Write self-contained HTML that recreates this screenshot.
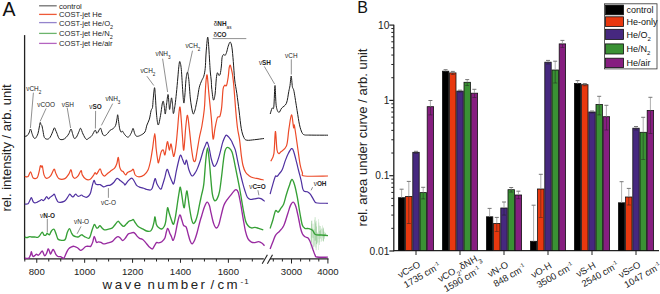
<!DOCTYPE html>
<html><head><meta charset="utf-8"><style>html,body{margin:0;padding:0;background:#fff;}svg{display:block;}</style></head>
<body><svg width="660" height="294" viewBox="0 0 660 294">
<line x1="393.8" y1="24.8" x2="393.8" y2="251.2" stroke="#222" stroke-width="1.3"/>
<line x1="393.2" y1="250.6" x2="659" y2="250.6" stroke="#222" stroke-width="1.2"/>
<line x1="389.3" y1="25.10" x2="393.8" y2="25.10" stroke="#222" stroke-width="1.2"/>
<line x1="389.3" y1="100.40" x2="393.8" y2="100.40" stroke="#222" stroke-width="1.2"/>
<line x1="389.3" y1="175.70" x2="393.8" y2="175.70" stroke="#222" stroke-width="1.2"/>
<line x1="389.3" y1="251.00" x2="393.8" y2="251.00" stroke="#222" stroke-width="1.2"/>
<line x1="391.3" y1="77.73" x2="393.8" y2="77.73" stroke="#222" stroke-width="1"/>
<line x1="391.3" y1="64.47" x2="393.8" y2="64.47" stroke="#222" stroke-width="1"/>
<line x1="391.3" y1="55.06" x2="393.8" y2="55.06" stroke="#222" stroke-width="1"/>
<line x1="391.3" y1="47.77" x2="393.8" y2="47.77" stroke="#222" stroke-width="1"/>
<line x1="391.3" y1="41.81" x2="393.8" y2="41.81" stroke="#222" stroke-width="1"/>
<line x1="391.3" y1="36.76" x2="393.8" y2="36.76" stroke="#222" stroke-width="1"/>
<line x1="391.3" y1="32.40" x2="393.8" y2="32.40" stroke="#222" stroke-width="1"/>
<line x1="391.3" y1="28.55" x2="393.8" y2="28.55" stroke="#222" stroke-width="1"/>
<line x1="391.3" y1="153.03" x2="393.8" y2="153.03" stroke="#222" stroke-width="1"/>
<line x1="391.3" y1="139.77" x2="393.8" y2="139.77" stroke="#222" stroke-width="1"/>
<line x1="391.3" y1="130.36" x2="393.8" y2="130.36" stroke="#222" stroke-width="1"/>
<line x1="391.3" y1="123.07" x2="393.8" y2="123.07" stroke="#222" stroke-width="1"/>
<line x1="391.3" y1="117.11" x2="393.8" y2="117.11" stroke="#222" stroke-width="1"/>
<line x1="391.3" y1="112.06" x2="393.8" y2="112.06" stroke="#222" stroke-width="1"/>
<line x1="391.3" y1="107.70" x2="393.8" y2="107.70" stroke="#222" stroke-width="1"/>
<line x1="391.3" y1="103.85" x2="393.8" y2="103.85" stroke="#222" stroke-width="1"/>
<line x1="391.3" y1="228.33" x2="393.8" y2="228.33" stroke="#222" stroke-width="1"/>
<line x1="391.3" y1="215.07" x2="393.8" y2="215.07" stroke="#222" stroke-width="1"/>
<line x1="391.3" y1="205.66" x2="393.8" y2="205.66" stroke="#222" stroke-width="1"/>
<line x1="391.3" y1="198.37" x2="393.8" y2="198.37" stroke="#222" stroke-width="1"/>
<line x1="391.3" y1="192.41" x2="393.8" y2="192.41" stroke="#222" stroke-width="1"/>
<line x1="391.3" y1="187.36" x2="393.8" y2="187.36" stroke="#222" stroke-width="1"/>
<line x1="391.3" y1="183.00" x2="393.8" y2="183.00" stroke="#222" stroke-width="1"/>
<line x1="391.3" y1="179.15" x2="393.8" y2="179.15" stroke="#222" stroke-width="1"/>
<text x="389.4" y="28.80" font-size="10.2" text-anchor="end" fill="#222" font-family="Liberation Sans, sans-serif">10</text>
<text x="389.4" y="104.10" font-size="10.2" text-anchor="end" fill="#222" font-family="Liberation Sans, sans-serif">1</text>
<text x="389.4" y="179.40" font-size="10.2" text-anchor="end" fill="#222" font-family="Liberation Sans, sans-serif">0.1</text>
<text x="389.4" y="254.70" font-size="10.2" text-anchor="end" fill="#222" font-family="Liberation Sans, sans-serif">0.01</text>
<rect x="398.40" y="197.70" width="6.40" height="52.90" fill="#000000" stroke="#111" stroke-width="0.8"/>
<rect x="405.60" y="196.40" width="6.40" height="54.20" fill="#e8380f" stroke="#111" stroke-width="0.8"/>
<rect x="412.80" y="152.30" width="6.40" height="98.30" fill="#46287f" stroke="#111" stroke-width="0.8"/>
<rect x="420.00" y="192.60" width="6.40" height="58.00" fill="#3a9134" stroke="#111" stroke-width="0.8"/>
<rect x="427.20" y="106.70" width="6.40" height="143.90" fill="#861e80" stroke="#111" stroke-width="0.8"/>
<line x1="401.60" y1="189.20" x2="401.60" y2="197.70" stroke="#999" stroke-width="0.8"/>
<line x1="399.60" y1="189.20" x2="403.60" y2="189.20" stroke="#777" stroke-width="1"/>
<line x1="408.80" y1="181.40" x2="408.80" y2="196.40" stroke="#999" stroke-width="0.8"/>
<line x1="406.80" y1="181.40" x2="410.80" y2="181.40" stroke="#777" stroke-width="1"/>
<line x1="408.80" y1="196.40" x2="408.80" y2="223.50" stroke="#222" stroke-width="0.8" opacity="0.6"/>
<line x1="406.80" y1="223.50" x2="410.80" y2="223.50" stroke="#222" stroke-width="0.8" opacity="0.6"/>
<line x1="416.00" y1="151.30" x2="416.00" y2="152.30" stroke="#999" stroke-width="0.8"/>
<line x1="414.00" y1="151.30" x2="418.00" y2="151.30" stroke="#777" stroke-width="1"/>
<line x1="416.00" y1="152.30" x2="416.00" y2="153.30" stroke="#222" stroke-width="0.8" opacity="0.6"/>
<line x1="414.00" y1="153.30" x2="418.00" y2="153.30" stroke="#222" stroke-width="0.8" opacity="0.6"/>
<line x1="423.20" y1="187.30" x2="423.20" y2="192.60" stroke="#999" stroke-width="0.8"/>
<line x1="421.20" y1="187.30" x2="425.20" y2="187.30" stroke="#777" stroke-width="1"/>
<line x1="423.20" y1="192.60" x2="423.20" y2="198.90" stroke="#222" stroke-width="0.8" opacity="0.6"/>
<line x1="421.20" y1="198.90" x2="425.20" y2="198.90" stroke="#222" stroke-width="0.8" opacity="0.6"/>
<line x1="430.40" y1="100.50" x2="430.40" y2="106.70" stroke="#999" stroke-width="0.8"/>
<line x1="428.40" y1="100.50" x2="432.40" y2="100.50" stroke="#777" stroke-width="1"/>
<line x1="430.40" y1="106.70" x2="430.40" y2="114.90" stroke="#222" stroke-width="0.8" opacity="0.6"/>
<line x1="428.40" y1="114.90" x2="432.40" y2="114.90" stroke="#222" stroke-width="0.8" opacity="0.6"/>
<line x1="416.00" y1="250.6" x2="416.00" y2="255" stroke="#222" stroke-width="1"/>
<rect x="442.40" y="71.20" width="6.40" height="179.40" fill="#000000" stroke="#111" stroke-width="0.8"/>
<rect x="449.60" y="72.90" width="6.40" height="177.70" fill="#e8380f" stroke="#111" stroke-width="0.8"/>
<rect x="456.80" y="91.10" width="6.40" height="159.50" fill="#46287f" stroke="#111" stroke-width="0.8"/>
<rect x="464.00" y="82.30" width="6.40" height="168.30" fill="#3a9134" stroke="#111" stroke-width="0.8"/>
<rect x="471.20" y="93.20" width="6.40" height="157.40" fill="#861e80" stroke="#111" stroke-width="0.8"/>
<line x1="445.60" y1="69.70" x2="445.60" y2="71.20" stroke="#999" stroke-width="0.8"/>
<line x1="443.60" y1="69.70" x2="447.60" y2="69.70" stroke="#777" stroke-width="1"/>
<line x1="452.80" y1="71.40" x2="452.80" y2="72.90" stroke="#999" stroke-width="0.8"/>
<line x1="450.80" y1="71.40" x2="454.80" y2="71.40" stroke="#777" stroke-width="1"/>
<line x1="452.80" y1="72.90" x2="452.80" y2="74.50" stroke="#222" stroke-width="0.8" opacity="0.6"/>
<line x1="450.80" y1="74.50" x2="454.80" y2="74.50" stroke="#222" stroke-width="0.8" opacity="0.6"/>
<line x1="460.00" y1="90.20" x2="460.00" y2="91.10" stroke="#999" stroke-width="0.8"/>
<line x1="458.00" y1="90.20" x2="462.00" y2="90.20" stroke="#777" stroke-width="1"/>
<line x1="460.00" y1="91.10" x2="460.00" y2="92.00" stroke="#222" stroke-width="0.8" opacity="0.6"/>
<line x1="458.00" y1="92.00" x2="462.00" y2="92.00" stroke="#222" stroke-width="0.8" opacity="0.6"/>
<line x1="467.20" y1="79.60" x2="467.20" y2="82.30" stroke="#999" stroke-width="0.8"/>
<line x1="465.20" y1="79.60" x2="469.20" y2="79.60" stroke="#777" stroke-width="1"/>
<line x1="467.20" y1="82.30" x2="467.20" y2="85.50" stroke="#222" stroke-width="0.8" opacity="0.6"/>
<line x1="465.20" y1="85.50" x2="469.20" y2="85.50" stroke="#222" stroke-width="0.8" opacity="0.6"/>
<line x1="474.40" y1="89.30" x2="474.40" y2="93.20" stroke="#999" stroke-width="0.8"/>
<line x1="472.40" y1="89.30" x2="476.40" y2="89.30" stroke="#777" stroke-width="1"/>
<line x1="474.40" y1="93.20" x2="474.40" y2="97.50" stroke="#222" stroke-width="0.8" opacity="0.6"/>
<line x1="472.40" y1="97.50" x2="476.40" y2="97.50" stroke="#222" stroke-width="0.8" opacity="0.6"/>
<line x1="460.00" y1="250.6" x2="460.00" y2="255" stroke="#222" stroke-width="1"/>
<rect x="486.40" y="216.80" width="6.40" height="33.80" fill="#000000" stroke="#111" stroke-width="0.8"/>
<rect x="493.60" y="223.40" width="6.40" height="27.20" fill="#e8380f" stroke="#111" stroke-width="0.8"/>
<rect x="500.80" y="208.00" width="6.40" height="42.60" fill="#46287f" stroke="#111" stroke-width="0.8"/>
<rect x="508.00" y="189.70" width="6.40" height="60.90" fill="#3a9134" stroke="#111" stroke-width="0.8"/>
<rect x="515.20" y="195.00" width="6.40" height="55.60" fill="#861e80" stroke="#111" stroke-width="0.8"/>
<line x1="489.60" y1="208.40" x2="489.60" y2="216.80" stroke="#999" stroke-width="0.8"/>
<line x1="487.60" y1="208.40" x2="491.60" y2="208.40" stroke="#777" stroke-width="1"/>
<line x1="496.80" y1="217.40" x2="496.80" y2="223.40" stroke="#999" stroke-width="0.8"/>
<line x1="494.80" y1="217.40" x2="498.80" y2="217.40" stroke="#777" stroke-width="1"/>
<line x1="496.80" y1="223.40" x2="496.80" y2="231.40" stroke="#222" stroke-width="0.8" opacity="0.6"/>
<line x1="494.80" y1="231.40" x2="498.80" y2="231.40" stroke="#222" stroke-width="0.8" opacity="0.6"/>
<line x1="504.00" y1="202.00" x2="504.00" y2="208.00" stroke="#999" stroke-width="0.8"/>
<line x1="502.00" y1="202.00" x2="506.00" y2="202.00" stroke="#777" stroke-width="1"/>
<line x1="504.00" y1="208.00" x2="504.00" y2="215.10" stroke="#222" stroke-width="0.8" opacity="0.6"/>
<line x1="502.00" y1="215.10" x2="506.00" y2="215.10" stroke="#222" stroke-width="0.8" opacity="0.6"/>
<line x1="511.20" y1="187.50" x2="511.20" y2="189.70" stroke="#999" stroke-width="0.8"/>
<line x1="509.20" y1="187.50" x2="513.20" y2="187.50" stroke="#777" stroke-width="1"/>
<line x1="511.20" y1="189.70" x2="511.20" y2="192.10" stroke="#222" stroke-width="0.8" opacity="0.6"/>
<line x1="509.20" y1="192.10" x2="513.20" y2="192.10" stroke="#222" stroke-width="0.8" opacity="0.6"/>
<line x1="518.40" y1="191.20" x2="518.40" y2="195.00" stroke="#999" stroke-width="0.8"/>
<line x1="516.40" y1="191.20" x2="520.40" y2="191.20" stroke="#777" stroke-width="1"/>
<line x1="518.40" y1="195.00" x2="518.40" y2="198.70" stroke="#222" stroke-width="0.8" opacity="0.6"/>
<line x1="516.40" y1="198.70" x2="520.40" y2="198.70" stroke="#222" stroke-width="0.8" opacity="0.6"/>
<line x1="504.00" y1="250.6" x2="504.00" y2="255" stroke="#222" stroke-width="1"/>
<rect x="530.40" y="241.30" width="6.40" height="9.30" fill="#000000" stroke="#111" stroke-width="0.8"/>
<rect x="537.60" y="189.00" width="6.40" height="61.60" fill="#e8380f" stroke="#111" stroke-width="0.8"/>
<rect x="544.80" y="62.20" width="6.40" height="188.40" fill="#46287f" stroke="#111" stroke-width="0.8"/>
<rect x="552.00" y="70.00" width="6.40" height="180.60" fill="#3a9134" stroke="#111" stroke-width="0.8"/>
<rect x="559.20" y="43.90" width="6.40" height="206.70" fill="#861e80" stroke="#111" stroke-width="0.8"/>
<line x1="533.60" y1="205.20" x2="533.60" y2="241.30" stroke="#999" stroke-width="0.8"/>
<line x1="531.60" y1="205.20" x2="535.60" y2="205.20" stroke="#777" stroke-width="1"/>
<line x1="540.80" y1="174.30" x2="540.80" y2="189.00" stroke="#999" stroke-width="0.8"/>
<line x1="538.80" y1="174.30" x2="542.80" y2="174.30" stroke="#777" stroke-width="1"/>
<line x1="540.80" y1="189.00" x2="540.80" y2="217.40" stroke="#222" stroke-width="0.8" opacity="0.6"/>
<line x1="538.80" y1="217.40" x2="542.80" y2="217.40" stroke="#222" stroke-width="0.8" opacity="0.6"/>
<line x1="548.00" y1="60.40" x2="548.00" y2="62.20" stroke="#999" stroke-width="0.8"/>
<line x1="546.00" y1="60.40" x2="550.00" y2="60.40" stroke="#777" stroke-width="1"/>
<line x1="548.00" y1="62.20" x2="548.00" y2="64.00" stroke="#222" stroke-width="0.8" opacity="0.6"/>
<line x1="546.00" y1="64.00" x2="550.00" y2="64.00" stroke="#222" stroke-width="0.8" opacity="0.6"/>
<line x1="555.20" y1="61.20" x2="555.20" y2="70.00" stroke="#999" stroke-width="0.8"/>
<line x1="553.20" y1="61.20" x2="557.20" y2="61.20" stroke="#777" stroke-width="1"/>
<line x1="555.20" y1="70.00" x2="555.20" y2="83.00" stroke="#222" stroke-width="0.8" opacity="0.6"/>
<line x1="553.20" y1="83.00" x2="557.20" y2="83.00" stroke="#222" stroke-width="0.8" opacity="0.6"/>
<line x1="562.40" y1="40.40" x2="562.40" y2="43.90" stroke="#999" stroke-width="0.8"/>
<line x1="560.40" y1="40.40" x2="564.40" y2="40.40" stroke="#777" stroke-width="1"/>
<line x1="562.40" y1="43.90" x2="562.40" y2="47.40" stroke="#222" stroke-width="0.8" opacity="0.6"/>
<line x1="560.40" y1="47.40" x2="564.40" y2="47.40" stroke="#222" stroke-width="0.8" opacity="0.6"/>
<line x1="548.00" y1="250.6" x2="548.00" y2="255" stroke="#222" stroke-width="1"/>
<rect x="574.40" y="83.50" width="6.40" height="167.10" fill="#000000" stroke="#111" stroke-width="0.8"/>
<rect x="581.60" y="84.70" width="6.40" height="165.90" fill="#e8380f" stroke="#111" stroke-width="0.8"/>
<rect x="588.80" y="112.00" width="6.40" height="138.60" fill="#46287f" stroke="#111" stroke-width="0.8"/>
<rect x="596.00" y="104.50" width="6.40" height="146.10" fill="#3a9134" stroke="#111" stroke-width="0.8"/>
<rect x="603.20" y="116.70" width="6.40" height="133.90" fill="#861e80" stroke="#111" stroke-width="0.8"/>
<line x1="577.60" y1="80.60" x2="577.60" y2="83.50" stroke="#999" stroke-width="0.8"/>
<line x1="575.60" y1="80.60" x2="579.60" y2="80.60" stroke="#777" stroke-width="1"/>
<line x1="584.80" y1="83.60" x2="584.80" y2="84.70" stroke="#999" stroke-width="0.8"/>
<line x1="582.80" y1="83.60" x2="586.80" y2="83.60" stroke="#777" stroke-width="1"/>
<line x1="584.80" y1="84.70" x2="584.80" y2="85.80" stroke="#222" stroke-width="0.8" opacity="0.6"/>
<line x1="582.80" y1="85.80" x2="586.80" y2="85.80" stroke="#222" stroke-width="0.8" opacity="0.6"/>
<line x1="592.00" y1="111.00" x2="592.00" y2="112.00" stroke="#999" stroke-width="0.8"/>
<line x1="590.00" y1="111.00" x2="594.00" y2="111.00" stroke="#777" stroke-width="1"/>
<line x1="592.00" y1="112.00" x2="592.00" y2="113.00" stroke="#222" stroke-width="0.8" opacity="0.6"/>
<line x1="590.00" y1="113.00" x2="594.00" y2="113.00" stroke="#222" stroke-width="0.8" opacity="0.6"/>
<line x1="599.20" y1="96.30" x2="599.20" y2="104.50" stroke="#999" stroke-width="0.8"/>
<line x1="597.20" y1="96.30" x2="601.20" y2="96.30" stroke="#777" stroke-width="1"/>
<line x1="599.20" y1="104.50" x2="599.20" y2="114.90" stroke="#222" stroke-width="0.8" opacity="0.6"/>
<line x1="597.20" y1="114.90" x2="601.20" y2="114.90" stroke="#222" stroke-width="0.8" opacity="0.6"/>
<line x1="606.40" y1="105.30" x2="606.40" y2="116.70" stroke="#999" stroke-width="0.8"/>
<line x1="604.40" y1="105.30" x2="608.40" y2="105.30" stroke="#777" stroke-width="1"/>
<line x1="606.40" y1="116.70" x2="606.40" y2="130.00" stroke="#222" stroke-width="0.8" opacity="0.6"/>
<line x1="604.40" y1="130.00" x2="608.40" y2="130.00" stroke="#222" stroke-width="0.8" opacity="0.6"/>
<line x1="592.00" y1="250.6" x2="592.00" y2="255" stroke="#222" stroke-width="1"/>
<rect x="618.40" y="202.80" width="6.40" height="47.80" fill="#000000" stroke="#111" stroke-width="0.8"/>
<rect x="625.60" y="197.00" width="6.40" height="53.60" fill="#e8380f" stroke="#111" stroke-width="0.8"/>
<rect x="632.80" y="128.20" width="6.40" height="122.40" fill="#46287f" stroke="#111" stroke-width="0.8"/>
<rect x="640.00" y="132.30" width="6.40" height="118.30" fill="#3a9134" stroke="#111" stroke-width="0.8"/>
<rect x="647.20" y="110.40" width="6.40" height="140.20" fill="#861e80" stroke="#111" stroke-width="0.8"/>
<line x1="621.60" y1="181.70" x2="621.60" y2="202.80" stroke="#999" stroke-width="0.8"/>
<line x1="619.60" y1="181.70" x2="623.60" y2="181.70" stroke="#777" stroke-width="1"/>
<line x1="628.80" y1="188.40" x2="628.80" y2="197.00" stroke="#999" stroke-width="0.8"/>
<line x1="626.80" y1="188.40" x2="630.80" y2="188.40" stroke="#777" stroke-width="1"/>
<line x1="628.80" y1="197.00" x2="628.80" y2="205.00" stroke="#222" stroke-width="0.8" opacity="0.6"/>
<line x1="626.80" y1="205.00" x2="630.80" y2="205.00" stroke="#222" stroke-width="0.8" opacity="0.6"/>
<line x1="636.00" y1="126.50" x2="636.00" y2="128.20" stroke="#999" stroke-width="0.8"/>
<line x1="634.00" y1="126.50" x2="638.00" y2="126.50" stroke="#777" stroke-width="1"/>
<line x1="636.00" y1="128.20" x2="636.00" y2="130.00" stroke="#222" stroke-width="0.8" opacity="0.6"/>
<line x1="634.00" y1="130.00" x2="638.00" y2="130.00" stroke="#222" stroke-width="0.8" opacity="0.6"/>
<line x1="643.20" y1="117.30" x2="643.20" y2="132.30" stroke="#999" stroke-width="0.8"/>
<line x1="641.20" y1="117.30" x2="645.20" y2="117.30" stroke="#777" stroke-width="1"/>
<line x1="643.20" y1="132.30" x2="643.20" y2="159.40" stroke="#222" stroke-width="0.8" opacity="0.6"/>
<line x1="641.20" y1="159.40" x2="645.20" y2="159.40" stroke="#222" stroke-width="0.8" opacity="0.6"/>
<line x1="650.40" y1="97.30" x2="650.40" y2="110.40" stroke="#999" stroke-width="0.8"/>
<line x1="648.40" y1="97.30" x2="652.40" y2="97.30" stroke="#777" stroke-width="1"/>
<line x1="650.40" y1="110.40" x2="650.40" y2="133.50" stroke="#222" stroke-width="0.8" opacity="0.6"/>
<line x1="648.40" y1="133.50" x2="652.40" y2="133.50" stroke="#222" stroke-width="0.8" opacity="0.6"/>
<line x1="636.00" y1="250.6" x2="636.00" y2="255" stroke="#222" stroke-width="1"/>
<g transform="translate(400.2,278.4) rotate(-30)"><text x="0" y="0" font-size="9.4" fill="#222" font-family="Liberation Sans, sans-serif">νC=O</text><text x="0" y="11.4" font-size="9.4" fill="#222" font-family="Liberation Sans, sans-serif">1735 cm<tspan dy="-4" font-size="5.5">-1</tspan></text></g>
<g transform="translate(440.2,282.5) rotate(-30)"><text x="0" y="0" font-size="9.4" fill="#222" font-family="Liberation Sans, sans-serif">νCO<tspan baseline-shift="sub" font-size="6.5">2</tspan>,δNH<tspan baseline-shift="sub" font-size="6.5">3</tspan></text><text x="0" y="11.4" font-size="9.4" fill="#222" font-family="Liberation Sans, sans-serif">1590 cm<tspan dy="-4" font-size="5.5">-1</tspan></text></g>
<g transform="translate(490.0,277.5) rotate(-30)"><text x="0" y="0" font-size="9.4" fill="#222" font-family="Liberation Sans, sans-serif">νN-O</text><text x="0" y="11.4" font-size="9.4" fill="#222" font-family="Liberation Sans, sans-serif">848 cm<tspan dy="-4" font-size="5.5">-1</tspan></text></g>
<g transform="translate(533.4,278.4) rotate(-30)"><text x="0" y="0" font-size="9.4" fill="#222" font-family="Liberation Sans, sans-serif">νO-H</text><text x="0" y="11.4" font-size="9.4" fill="#222" font-family="Liberation Sans, sans-serif">3500 cm<tspan dy="-4" font-size="5.5">-1</tspan></text></g>
<g transform="translate(578.4,277.5) rotate(-30)"><text x="0" y="0" font-size="9.4" fill="#222" font-family="Liberation Sans, sans-serif">νS-H</text><text x="0" y="11.4" font-size="9.4" fill="#222" font-family="Liberation Sans, sans-serif">2540 cm<tspan dy="-4" font-size="5.5">-1</tspan></text></g>
<g transform="translate(620.9,278.4) rotate(-30)"><text x="0" y="0" font-size="9.4" fill="#222" font-family="Liberation Sans, sans-serif">νS=O</text><text x="0" y="11.4" font-size="9.4" fill="#222" font-family="Liberation Sans, sans-serif">1047 cm<tspan dy="-4" font-size="5.5">-1</tspan></text></g>
<text transform="translate(366.5,137.5) rotate(-90)" x="0" y="0" font-size="13" text-anchor="middle" fill="#222" font-family="Liberation Sans, sans-serif">rel. area under curve / arb. unit</text>
<text x="357.2" y="13" font-size="16" fill="#111" font-family="Liberation Sans, sans-serif">B</text>
<rect x="604.4" y="3.8" width="52.6" height="65.1" fill="#fff" stroke="#333" stroke-width="0.8"/>
<rect x="605.6" y="5.1" width="18" height="9.7" fill="#000" stroke="#111" stroke-width="0.8"/>
<text x="626.5" y="13.2" font-size="9" fill="#111" font-family="Liberation Sans, sans-serif">control</text>
<rect x="605.6" y="16.8" width="18" height="9.7" fill="#e8380f" stroke="#111" stroke-width="0.8"/>
<text x="626.5" y="24.9" font-size="9" fill="#111" font-family="Liberation Sans, sans-serif">He-only</text>
<rect x="605.6" y="29.3" width="18" height="10.2" fill="#46287f" stroke="#111" stroke-width="0.8"/>
<text x="626.5" y="37.7" font-size="9" fill="#111" font-family="Liberation Sans, sans-serif">He/O<tspan baseline-shift="sub" font-size="6">2</tspan></text>
<rect x="605.6" y="43.9" width="18" height="10.1" fill="#3a9134" stroke="#111" stroke-width="0.8"/>
<text x="626.5" y="52.2" font-size="9" fill="#111" font-family="Liberation Sans, sans-serif">He/N<tspan baseline-shift="sub" font-size="6">2</tspan></text>
<rect x="605.6" y="58.2" width="18" height="9.4" fill="#861e80" stroke="#111" stroke-width="0.8"/>
<text x="626.5" y="66.2" font-size="9" fill="#111" font-family="Liberation Sans, sans-serif">He/air</text>
<text x="2.6" y="16.1" font-size="19.5" fill="#111" font-family="Liberation Sans, sans-serif">A</text>
<line x1="24.6" y1="35.1" x2="24.6" y2="259.4" stroke="#222" stroke-width="1.3"/>
<line x1="24" y1="258.9" x2="263.8" y2="258.9" stroke="#222" stroke-width="1.2"/>
<line x1="270" y1="258.9" x2="328.5" y2="258.9" stroke="#222" stroke-width="1.2"/>
<line x1="24.80" y1="258.9" x2="24.80" y2="261.5" stroke="#222" stroke-width="1"/>
<line x1="36.77" y1="258.9" x2="36.77" y2="262.8" stroke="#222" stroke-width="1"/>
<line x1="48.75" y1="258.9" x2="48.75" y2="261.5" stroke="#222" stroke-width="1"/>
<line x1="60.72" y1="258.9" x2="60.72" y2="261.5" stroke="#222" stroke-width="1"/>
<line x1="72.70" y1="258.9" x2="72.70" y2="261.5" stroke="#222" stroke-width="1"/>
<line x1="84.67" y1="258.9" x2="84.67" y2="262.8" stroke="#222" stroke-width="1"/>
<line x1="96.65" y1="258.9" x2="96.65" y2="261.5" stroke="#222" stroke-width="1"/>
<line x1="108.62" y1="258.9" x2="108.62" y2="261.5" stroke="#222" stroke-width="1"/>
<line x1="120.60" y1="258.9" x2="120.60" y2="261.5" stroke="#222" stroke-width="1"/>
<line x1="132.57" y1="258.9" x2="132.57" y2="262.8" stroke="#222" stroke-width="1"/>
<line x1="144.55" y1="258.9" x2="144.55" y2="261.5" stroke="#222" stroke-width="1"/>
<line x1="156.53" y1="258.9" x2="156.53" y2="261.5" stroke="#222" stroke-width="1"/>
<line x1="168.50" y1="258.9" x2="168.50" y2="261.5" stroke="#222" stroke-width="1"/>
<line x1="180.47" y1="258.9" x2="180.47" y2="262.8" stroke="#222" stroke-width="1"/>
<line x1="192.45" y1="258.9" x2="192.45" y2="261.5" stroke="#222" stroke-width="1"/>
<line x1="204.43" y1="258.9" x2="204.43" y2="261.5" stroke="#222" stroke-width="1"/>
<line x1="216.40" y1="258.9" x2="216.40" y2="261.5" stroke="#222" stroke-width="1"/>
<line x1="228.38" y1="258.9" x2="228.38" y2="262.8" stroke="#222" stroke-width="1"/>
<line x1="240.35" y1="258.9" x2="240.35" y2="261.5" stroke="#222" stroke-width="1"/>
<line x1="252.32" y1="258.9" x2="252.32" y2="261.5" stroke="#222" stroke-width="1"/>
<line x1="273.30" y1="258.9" x2="273.30" y2="261.5" stroke="#222" stroke-width="1"/>
<line x1="282.40" y1="258.9" x2="282.40" y2="261.5" stroke="#222" stroke-width="1"/>
<line x1="291.50" y1="258.9" x2="291.50" y2="263.5" stroke="#222" stroke-width="1"/>
<line x1="300.60" y1="258.9" x2="300.60" y2="261.5" stroke="#222" stroke-width="1"/>
<line x1="309.70" y1="258.9" x2="309.70" y2="261.5" stroke="#222" stroke-width="1"/>
<line x1="318.80" y1="258.9" x2="318.80" y2="261.5" stroke="#222" stroke-width="1"/>
<line x1="327.90" y1="258.9" x2="327.90" y2="263.5" stroke="#222" stroke-width="1"/>
<line x1="262.2" y1="263.8" x2="267.4" y2="254.8" stroke="#222" stroke-width="1.1"/>
<line x1="267.4" y1="263.8" x2="272.5" y2="254.8" stroke="#222" stroke-width="1.1"/>
<text x="36.77" y="274.7" font-size="9.6" text-anchor="middle" fill="#222" font-family="Liberation Sans, sans-serif">800</text>
<text x="84.67" y="274.7" font-size="9.6" text-anchor="middle" fill="#222" font-family="Liberation Sans, sans-serif">1000</text>
<text x="132.57" y="274.7" font-size="9.6" text-anchor="middle" fill="#222" font-family="Liberation Sans, sans-serif">1200</text>
<text x="180.47" y="274.7" font-size="9.6" text-anchor="middle" fill="#222" font-family="Liberation Sans, sans-serif">1400</text>
<text x="228.38" y="274.7" font-size="9.6" text-anchor="middle" fill="#222" font-family="Liberation Sans, sans-serif">1600</text>
<text x="291.50" y="274.7" font-size="9.6" text-anchor="middle" fill="#222" font-family="Liberation Sans, sans-serif">3000</text>
<text x="327.90" y="274.7" font-size="9.6" text-anchor="middle" fill="#222" font-family="Liberation Sans, sans-serif">4000</text>
<text y="289.3" font-size="13.3" letter-spacing="2.5" fill="#222" font-family="Liberation Sans, sans-serif"><tspan x="102.6">wave</tspan><tspan x="147.4">number</tspan><tspan x="210.6">/</tspan><tspan x="217.4">cm</tspan><tspan x="240.5" y="283.6" font-size="8" letter-spacing="1">-1</tspan></text>
<text transform="translate(11.3,147.9) rotate(-90)" x="0" y="0" font-size="13" text-anchor="middle" fill="#222" font-family="Liberation Sans, sans-serif">rel. intensity / arb. unit</text>
<line x1="39.1" y1="5.8" x2="56.7" y2="5.8" stroke="#707070" stroke-width="1.3"/>
<text x="59" y="8.5" font-size="7.6" fill="#222" font-family="Liberation Sans, sans-serif">control</text>
<line x1="39.1" y1="14.4" x2="56.7" y2="14.4" stroke="#ee5a38" stroke-width="1.3"/>
<text x="59" y="17.0" font-size="7.6" fill="#222" font-family="Liberation Sans, sans-serif">COST-jet He</text>
<line x1="39.1" y1="22.6" x2="56.7" y2="22.6" stroke="#9484cc" stroke-width="1.3"/>
<text x="59" y="25.6" font-size="7.6" fill="#222" font-family="Liberation Sans, sans-serif">COST-jet He/O<tspan baseline-shift="sub" font-size="5.5">2</tspan></text>
<line x1="39.1" y1="33.4" x2="56.7" y2="33.4" stroke="#6cb46c" stroke-width="1.3"/>
<text x="59" y="36.1" font-size="7.6" fill="#222" font-family="Liberation Sans, sans-serif">COST-jet He/N<tspan baseline-shift="sub" font-size="5.5">2</tspan></text>
<line x1="39.1" y1="43.4" x2="56.7" y2="43.4" stroke="#b464c0" stroke-width="1.3"/>
<text x="59" y="46.2" font-size="7.6" fill="#222" font-family="Liberation Sans, sans-serif">COST-jet He/air</text>
<line x1="33.4" y1="92.7" x2="30.4" y2="128.0" stroke="#444" stroke-width="0.6"/>
<line x1="46.1" y1="108.4" x2="40.2" y2="121.3" stroke="#444" stroke-width="0.6"/>
<line x1="67.2" y1="107.7" x2="70.6" y2="128.0" stroke="#444" stroke-width="0.6"/>
<line x1="95.6" y1="110.9" x2="95.4" y2="128.5" stroke="#444" stroke-width="0.6"/>
<line x1="112.7" y1="103.6" x2="101.4" y2="125.4" stroke="#444" stroke-width="0.6"/>
<line x1="146.9" y1="76.2" x2="153.8" y2="85.5" stroke="#444" stroke-width="0.6"/>
<line x1="162.6" y1="58.7" x2="167.6" y2="92.0" stroke="#444" stroke-width="0.6"/>
<line x1="192.5" y1="50.7" x2="187.5" y2="73.6" stroke="#444" stroke-width="0.6"/>
<line x1="264.3" y1="66.4" x2="274.6" y2="84.0" stroke="#444" stroke-width="0.6"/>
<line x1="291.3" y1="59.3" x2="291.3" y2="74.5" stroke="#444" stroke-width="0.6"/>
<line x1="257.9" y1="190.2" x2="258.9" y2="195.3" stroke="#444" stroke-width="0.6"/>
<line x1="312.6" y1="187.2" x2="311.1" y2="190.3" stroke="#444" stroke-width="0.6"/>
<line x1="108.4" y1="188.1" x2="108.4" y2="197.8" stroke="#444" stroke-width="0.6"/>
<line x1="47.3" y1="218.8" x2="47.3" y2="232.0" stroke="#444" stroke-width="0.6"/>
<line x1="81.0" y1="226.4" x2="77.1" y2="233.8" stroke="#444" stroke-width="0.6"/>
<line x1="212.7" y1="38.6" x2="246.3" y2="38.6" stroke="#444" stroke-width="0.6"/>
<text x="26.2" y="90.6" font-size="6.4" fill="#222" font-family="Liberation Sans, sans-serif">νCH<tspan baseline-shift="sub" font-size="4.6">2</tspan></text>
<text x="37.2" y="106.6" font-size="6.4" fill="#222" font-family="Liberation Sans, sans-serif">νCOO</text>
<text x="61.7" y="107.0" font-size="6.4" fill="#222" font-family="Liberation Sans, sans-serif">νSH</text>
<text x="89.3" y="109.1" font-size="6.4" fill="#222" font-family="Liberation Sans, sans-serif">ν<tspan font-weight="bold">SO</tspan></text>
<text x="105.4" y="101.1" font-size="6.4" fill="#222" font-family="Liberation Sans, sans-serif">νNH<tspan baseline-shift="sub" font-size="4.6">3</tspan></text>
<text x="140.4" y="73.0" font-size="6.4" fill="#222" font-family="Liberation Sans, sans-serif">νCH<tspan baseline-shift="sub" font-size="4.6">2</tspan></text>
<text x="155.5" y="55.7" font-size="6.4" fill="#222" font-family="Liberation Sans, sans-serif">νNH<tspan baseline-shift="sub" font-size="4.6">3</tspan></text>
<text x="185.4" y="47.5" font-size="6.4" fill="#222" font-family="Liberation Sans, sans-serif">νCH<tspan baseline-shift="sub" font-size="4.6">2</tspan></text>
<text x="213.8" y="26.1" font-size="6.4" fill="#222" font-family="Liberation Sans, sans-serif">δ<tspan font-weight="bold">NH</tspan><tspan baseline-shift="sub" font-size="4.6">as</tspan></text>
<text x="213.4" y="37.0" font-size="6.4" fill="#222" font-family="Liberation Sans, sans-serif">δ<tspan font-weight="bold">CO</tspan></text>
<text x="258.9" y="65.0" font-size="6.4" fill="#222" font-family="Liberation Sans, sans-serif">ν<tspan font-weight="bold">SH</tspan></text>
<text x="285.1" y="58.1" font-size="6.4" fill="#222" font-family="Liberation Sans, sans-serif">νCH</text>
<text x="249.2" y="188.7" font-size="6.4" fill="#222" font-family="Liberation Sans, sans-serif">ν<tspan font-weight="bold">C=O</tspan></text>
<text x="313.7" y="186.4" font-size="6.4" fill="#222" font-family="Liberation Sans, sans-serif">ν<tspan font-weight="bold">OH</tspan></text>
<text x="101.0" y="204.6" font-size="6.4" fill="#222" font-family="Liberation Sans, sans-serif">νC-O</text>
<text x="40.1" y="217.7" font-size="6.4" fill="#222" font-family="Liberation Sans, sans-serif">ν<tspan font-weight="bold">N-O</tspan></text>
<text x="74.1" y="223.7" font-size="6.4" fill="#222" font-family="Liberation Sans, sans-serif">νN-O</text>
<line x1="310.80" y1="229.4" x2="310.80" y2="248.9" stroke="#3f9f3f" stroke-width="0.5" opacity="0.27"/>
<line x1="311.27" y1="220.8" x2="311.27" y2="242.5" stroke="#3f9f3f" stroke-width="0.5" opacity="0.69"/>
<line x1="311.59" y1="223.7" x2="311.59" y2="243.0" stroke="#3f9f3f" stroke-width="0.5" opacity="0.28"/>
<line x1="311.97" y1="220.6" x2="311.97" y2="237.5" stroke="#3f9f3f" stroke-width="0.5" opacity="0.36"/>
<line x1="312.50" y1="227.9" x2="312.50" y2="245.5" stroke="#3f9f3f" stroke-width="0.5" opacity="0.27"/>
<line x1="313.07" y1="223.7" x2="313.07" y2="238.1" stroke="#3f9f3f" stroke-width="0.5" opacity="0.46"/>
<line x1="313.64" y1="232.5" x2="313.64" y2="249.3" stroke="#3f9f3f" stroke-width="0.5" opacity="0.33"/>
<line x1="313.98" y1="229.0" x2="313.98" y2="246.9" stroke="#3f9f3f" stroke-width="0.5" opacity="0.50"/>
<line x1="314.64" y1="219.8" x2="314.64" y2="245.5" stroke="#3f9f3f" stroke-width="0.5" opacity="0.36"/>
<line x1="315.13" y1="217.2" x2="315.13" y2="240.9" stroke="#3f9f3f" stroke-width="0.5" opacity="0.55"/>
<line x1="315.45" y1="222.0" x2="315.45" y2="240.3" stroke="#3f9f3f" stroke-width="0.5" opacity="0.25"/>
<line x1="315.81" y1="223.5" x2="315.81" y2="247.6" stroke="#3f9f3f" stroke-width="0.5" opacity="0.41"/>
<line x1="316.16" y1="220.8" x2="316.16" y2="250.3" stroke="#3f9f3f" stroke-width="0.5" opacity="0.49"/>
<line x1="316.52" y1="226.5" x2="316.52" y2="244.0" stroke="#3f9f3f" stroke-width="0.5" opacity="0.49"/>
<line x1="317.13" y1="232.1" x2="317.13" y2="244.5" stroke="#3f9f3f" stroke-width="0.5" opacity="0.35"/>
<line x1="317.64" y1="233.2" x2="317.64" y2="242.6" stroke="#3f9f3f" stroke-width="0.5" opacity="0.53"/>
<line x1="318.30" y1="219.1" x2="318.30" y2="250.0" stroke="#3f9f3f" stroke-width="0.5" opacity="0.40"/>
<line x1="318.92" y1="222.5" x2="318.92" y2="239.0" stroke="#3f9f3f" stroke-width="0.5" opacity="0.31"/>
<line x1="319.23" y1="225.5" x2="319.23" y2="242.5" stroke="#3f9f3f" stroke-width="0.5" opacity="0.37"/>
<line x1="319.69" y1="230.9" x2="319.69" y2="245.0" stroke="#3f9f3f" stroke-width="0.5" opacity="0.48"/>
<line x1="320.21" y1="226.0" x2="320.21" y2="235.3" stroke="#3f9f3f" stroke-width="0.5" opacity="0.58"/>
<line x1="320.73" y1="230.3" x2="320.73" y2="238.6" stroke="#3f9f3f" stroke-width="0.5" opacity="0.60"/>
<line x1="321.23" y1="228.8" x2="321.23" y2="241.8" stroke="#3f9f3f" stroke-width="0.5" opacity="0.47"/>
<line x1="321.91" y1="227.8" x2="321.91" y2="240.8" stroke="#3f9f3f" stroke-width="0.5" opacity="0.28"/>
<line x1="322.48" y1="225.5" x2="322.48" y2="237.6" stroke="#3f9f3f" stroke-width="0.5" opacity="0.35"/>
<line x1="323.16" y1="229.3" x2="323.16" y2="240.7" stroke="#3f9f3f" stroke-width="0.5" opacity="0.57"/>
<line x1="323.47" y1="227.7" x2="323.47" y2="241.5" stroke="#3f9f3f" stroke-width="0.5" opacity="0.60"/>
<line x1="324.15" y1="231.7" x2="324.15" y2="236.5" stroke="#3f9f3f" stroke-width="0.5" opacity="0.62"/>
<line x1="324.56" y1="234.2" x2="324.56" y2="238.7" stroke="#3f9f3f" stroke-width="0.5" opacity="0.54"/>
<line x1="325.18" y1="233.7" x2="325.18" y2="235.7" stroke="#3f9f3f" stroke-width="0.5" opacity="0.37"/>
<line x1="325.53" y1="232.8" x2="325.53" y2="235.1" stroke="#3f9f3f" stroke-width="0.5" opacity="0.59"/>
<line x1="325.95" y1="234.1" x2="325.95" y2="235.3" stroke="#3f9f3f" stroke-width="0.5" opacity="0.43"/>
<path d="M24.80,136.40 C25.17,136.30 26.30,136.37 27.00,135.80 C27.70,135.23 28.42,134.13 29.00,133.00 C29.58,131.87 30.00,128.92 30.50,129.00 C31.00,129.08 31.47,132.07 32.00,133.50 C32.53,134.93 33.12,136.82 33.70,137.60 C34.28,138.38 34.80,138.83 35.50,138.20 C36.20,137.57 37.27,135.67 37.90,133.80 C38.53,131.93 38.92,128.88 39.30,127.00 C39.68,125.12 39.92,122.92 40.20,122.50 C40.48,122.08 40.70,123.92 41.00,124.50 C41.30,125.08 41.67,124.92 42.00,126.00 C42.33,127.08 42.60,129.08 43.00,131.00 C43.40,132.92 43.67,136.13 44.40,137.50 C45.13,138.87 46.47,139.20 47.40,139.20 C48.33,139.20 49.22,138.50 50.00,137.50 C50.78,136.50 51.38,134.80 52.10,133.20 C52.82,131.60 53.73,128.43 54.30,127.90 C54.87,127.37 55.07,129.12 55.50,130.00 C55.93,130.88 56.27,131.73 56.90,133.20 C57.53,134.67 58.30,137.75 59.30,138.80 C60.30,139.85 61.78,139.72 62.90,139.50 C64.02,139.28 65.02,138.45 66.00,137.50 C66.98,136.55 67.97,135.22 68.80,133.80 C69.63,132.38 70.38,129.05 71.00,129.00 C71.62,128.95 71.97,131.95 72.50,133.50 C73.03,135.05 73.53,137.72 74.20,138.30 C74.87,138.88 75.70,138.13 76.50,137.00 C77.30,135.87 78.32,132.95 79.00,131.50 C79.68,130.05 79.93,127.88 80.60,128.30 C81.27,128.72 82.07,132.17 83.00,134.00 C83.93,135.83 85.20,138.63 86.20,139.30 C87.20,139.97 88.07,138.58 89.00,138.00 C89.93,137.42 90.77,137.10 91.80,135.80 C92.83,134.50 94.33,130.60 95.20,130.20 C96.07,129.80 96.17,133.72 97.00,133.40 C97.83,133.08 99.47,128.83 100.20,128.30 C100.93,127.77 100.98,129.20 101.40,130.20 C101.82,131.20 102.13,133.40 102.70,134.30 C103.27,135.20 104.00,135.72 104.80,135.60 C105.60,135.48 106.60,134.50 107.50,133.60 C108.40,132.70 109.30,131.00 110.20,130.20 C111.10,129.40 112.00,129.60 112.90,128.80 C113.80,128.00 114.92,127.10 115.60,125.40 C116.28,123.70 116.65,120.37 117.00,118.60 C117.35,116.83 117.43,114.35 117.70,114.80 C117.97,115.25 118.27,118.97 118.60,121.30 C118.93,123.63 119.28,126.98 119.70,128.80 C120.12,130.62 120.65,131.82 121.10,132.20 C121.55,132.58 121.83,130.75 122.40,131.10 C122.97,131.45 123.70,133.32 124.50,134.30 C125.30,135.28 126.40,136.67 127.20,137.00 C128.00,137.33 128.57,137.10 129.30,136.30 C130.03,135.50 130.97,133.52 131.60,132.20 C132.23,130.88 132.58,128.17 133.10,128.40 C133.62,128.63 134.10,132.28 134.70,133.60 C135.30,134.92 135.73,136.02 136.70,136.30 C137.67,136.58 139.13,136.02 140.50,135.30 C141.87,134.58 143.83,133.70 144.90,132.00 C145.97,130.30 146.15,127.25 146.90,125.10 C147.65,122.95 148.70,121.52 149.40,119.10 C150.10,116.68 150.58,112.53 151.10,110.60 C151.62,108.67 152.17,109.20 152.50,107.50 C152.83,105.80 152.77,103.70 153.10,100.40 C153.43,97.10 154.12,88.27 154.50,87.70 C154.88,87.13 155.07,92.62 155.40,97.00 C155.73,101.38 156.03,109.33 156.50,114.00 C156.97,118.67 157.53,124.72 158.20,125.00 C158.87,125.28 159.83,119.20 160.50,115.70 C161.17,112.20 161.73,106.40 162.20,104.00 C162.67,101.60 162.93,100.73 163.30,101.30 C163.67,101.87 164.07,105.28 164.40,107.40 C164.73,109.52 164.93,114.57 165.30,114.00 C165.67,113.43 166.15,107.25 166.60,104.00 C167.05,100.75 167.62,94.72 168.00,94.50 C168.38,94.28 168.63,100.20 168.90,102.70 C169.17,105.20 169.30,109.50 169.60,109.50 C169.90,109.50 170.37,104.63 170.70,102.70 C171.03,100.77 171.28,97.45 171.60,97.90 C171.92,98.35 172.30,102.78 172.60,105.40 C172.90,108.02 173.00,113.60 173.40,113.60 C173.80,113.60 174.50,108.80 175.00,105.40 C175.50,102.00 175.93,97.77 176.40,93.20 C176.87,88.63 177.40,82.37 177.80,78.00 C178.20,73.63 178.47,69.75 178.80,67.00 C179.13,64.25 179.38,61.12 179.80,61.50 C180.22,61.88 180.80,64.22 181.30,69.30 C181.80,74.38 182.38,86.38 182.80,92.00 C183.22,97.62 183.47,102.33 183.80,103.00 C184.13,103.67 184.43,99.92 184.80,96.00 C185.17,92.08 185.57,83.45 186.00,79.50 C186.43,75.55 186.93,72.30 187.40,72.30 C187.87,72.30 188.30,75.05 188.80,79.50 C189.30,83.95 189.82,93.75 190.40,99.00 C190.98,104.25 191.80,108.50 192.30,111.00 C192.80,113.50 192.95,114.17 193.40,114.00 C193.85,113.83 194.58,111.33 195.00,110.00 C195.42,108.67 195.47,108.10 195.90,106.00 C196.33,103.90 197.03,100.53 197.60,97.40 C198.17,94.27 198.60,90.03 199.30,87.20 C200.00,84.37 201.05,82.23 201.80,80.40 C202.55,78.57 203.23,78.18 203.80,76.20 C204.37,74.22 204.85,71.87 205.20,68.50 C205.55,65.13 205.67,59.70 205.90,56.00 C206.13,52.30 206.30,49.45 206.60,46.30 C206.90,43.15 207.35,37.10 207.70,37.10 C208.05,37.10 208.37,42.03 208.70,46.30 C209.03,50.57 209.43,58.42 209.70,62.70 C209.97,66.98 210.03,68.95 210.30,72.00 C210.57,75.05 211.07,78.33 211.30,81.00 C211.53,83.67 211.35,84.83 211.70,88.00 C212.05,91.17 212.83,99.00 213.40,100.00 C213.97,101.00 214.62,97.55 215.10,94.00 C215.58,90.45 215.92,82.23 216.30,78.70 C216.68,75.17 216.98,73.37 217.40,72.80 C217.82,72.23 218.33,75.10 218.80,75.30 C219.27,75.50 219.77,75.55 220.20,74.00 C220.63,72.45 221.08,68.77 221.40,66.00 C221.72,63.23 221.72,59.33 222.10,57.40 C222.48,55.47 223.20,54.73 223.70,54.40 C224.20,54.07 224.62,55.75 225.10,55.40 C225.58,55.05 226.08,53.83 226.60,52.30 C227.12,50.77 227.60,47.90 228.20,46.20 C228.80,44.50 229.58,41.93 230.20,42.10 C230.82,42.27 231.38,43.97 231.90,47.20 C232.42,50.43 232.83,56.05 233.30,61.50 C233.77,66.95 234.12,74.60 234.70,79.90 C235.28,85.20 236.07,88.12 236.80,93.30 C237.53,98.48 238.35,105.10 239.10,111.00 C239.85,116.90 240.50,124.28 241.30,128.70 C242.10,133.12 242.98,135.58 243.90,137.50 C244.82,139.42 245.03,139.83 246.80,140.20 C248.57,140.57 251.63,139.98 254.50,139.70 C257.37,139.42 262.42,138.70 264.00,138.50" fill="none" stroke="#1c1c1c" stroke-width="1.0" stroke-linejoin="round"/>
<path d="M270.20,114.00 C270.52,113.02 271.50,109.28 272.10,108.10 C272.70,106.92 273.32,110.67 273.80,106.90 C274.28,103.13 274.60,85.70 275.00,85.50 C275.40,85.30 275.57,101.22 276.20,105.70 C276.83,110.18 277.88,112.00 278.80,112.40 C279.72,112.80 280.43,109.62 281.70,108.10 C282.97,106.58 285.22,106.08 286.40,103.30 C287.58,100.52 288.20,94.37 288.80,91.40 C289.40,88.43 289.60,88.07 290.00,85.50 C290.40,82.93 290.80,75.80 291.20,76.00 C291.60,76.20 291.93,84.13 292.40,86.70 C292.87,89.27 293.22,87.43 294.00,91.40 C294.78,95.37 296.18,104.93 297.10,110.50 C298.02,116.07 298.70,121.15 299.50,124.80 C300.30,128.45 301.10,130.73 301.90,132.40 C302.70,134.07 302.95,134.35 304.30,134.80 C305.65,135.25 306.05,135.03 310.00,135.10 C313.95,135.17 325.00,135.18 328.00,135.20" fill="none" stroke="#1c1c1c" stroke-width="1.0" stroke-linejoin="round"/>
<path d="M24.80,176.50 C25.35,176.50 27.13,177.28 28.10,176.50 C29.07,175.72 29.75,171.55 30.60,171.80 C31.45,172.05 32.08,177.03 33.20,178.00 C34.32,178.97 36.28,178.80 37.30,177.60 C38.32,176.40 38.78,172.78 39.30,170.80 C39.82,168.82 40.05,166.32 40.40,165.70 C40.75,165.08 41.07,167.00 41.40,167.10 C41.73,167.20 41.97,165.00 42.40,166.30 C42.83,167.60 43.32,172.88 44.00,174.90 C44.68,176.92 45.40,178.23 46.50,178.40 C47.60,178.57 49.35,177.43 50.60,175.90 C51.85,174.37 53.15,169.70 54.00,169.20 C54.85,168.70 54.92,171.37 55.70,172.90 C56.48,174.43 57.17,177.45 58.70,178.40 C60.23,179.35 63.20,179.35 64.90,178.60 C66.60,177.85 67.88,175.37 68.90,173.90 C69.92,172.43 70.38,169.47 71.00,169.80 C71.62,170.13 71.98,174.47 72.60,175.90 C73.22,177.33 73.78,178.40 74.70,178.40 C75.62,178.40 77.03,177.20 78.10,175.90 C79.17,174.60 80.40,170.77 81.10,170.60 C81.80,170.43 81.53,173.48 82.30,174.90 C83.07,176.32 84.43,178.33 85.70,179.10 C86.97,179.87 88.63,180.07 89.90,179.50 C91.17,178.93 92.45,176.83 93.30,175.70 C94.15,174.57 94.43,172.98 95.00,172.70 C95.57,172.42 95.85,174.63 96.70,174.00 C97.55,173.37 99.25,169.03 100.10,168.90 C100.95,168.77 101.08,172.00 101.80,173.20 C102.52,174.40 103.40,176.10 104.40,176.10 C105.40,176.10 106.67,174.12 107.80,173.20 C108.93,172.28 110.07,171.45 111.20,170.60 C112.33,169.75 113.67,169.23 114.60,168.10 C115.53,166.97 116.18,165.57 116.80,163.80 C117.42,162.03 117.82,156.93 118.30,157.50 C118.78,158.07 119.18,165.02 119.70,167.20 C120.22,169.38 120.83,169.88 121.40,170.60 C121.97,171.32 122.40,170.78 123.10,171.50 C123.80,172.22 124.85,174.73 125.60,174.90 C126.35,175.07 126.63,173.20 127.60,172.50 C128.57,171.80 130.45,171.22 131.40,170.70 C132.35,170.18 132.67,168.68 133.30,169.40 C133.93,170.12 134.25,173.77 135.20,175.00 C136.15,176.23 137.52,176.80 139.00,176.80 C140.48,176.80 142.60,176.13 144.10,175.00 C145.60,173.87 146.93,172.33 148.00,170.00 C149.07,167.67 149.73,164.62 150.50,161.00 C151.27,157.38 151.88,152.88 152.60,148.30 C153.32,143.72 154.22,133.50 154.80,133.50 C155.38,133.50 155.62,143.88 156.10,148.30 C156.58,152.72 157.28,157.65 157.70,160.00 C158.12,162.35 158.05,163.67 158.60,162.40 C159.15,161.13 160.22,154.47 161.00,152.40 C161.78,150.33 162.63,149.60 163.30,150.00 C163.97,150.40 164.32,156.18 165.00,154.80 C165.68,153.42 166.68,142.50 167.40,141.70 C168.12,140.90 168.70,149.62 169.30,150.00 C169.90,150.38 170.40,143.40 171.00,144.00 C171.60,144.60 172.40,151.60 172.90,153.60 C173.40,155.60 173.48,157.40 174.00,156.00 C174.52,154.60 175.40,149.77 176.00,145.20 C176.60,140.63 177.13,133.75 177.60,128.60 C178.07,123.45 178.40,117.88 178.80,114.30 C179.20,110.72 179.60,106.32 180.00,107.10 C180.40,107.88 180.80,114.23 181.20,119.00 C181.60,123.77 181.97,130.53 182.40,135.70 C182.83,140.87 183.23,151.53 183.80,150.00 C184.37,148.47 185.18,132.28 185.80,126.50 C186.42,120.72 186.92,114.95 187.50,115.30 C188.08,115.65 188.67,123.32 189.30,128.60 C189.93,133.88 190.62,141.77 191.30,147.00 C191.98,152.23 192.72,157.75 193.40,160.00 C194.08,162.25 194.78,162.00 195.40,160.50 C196.02,159.00 196.42,154.92 197.10,151.00 C197.78,147.08 198.70,141.17 199.50,137.00 C200.30,132.83 201.10,130.62 201.90,126.00 C202.70,121.38 203.75,114.63 204.30,109.30 C204.85,103.97 204.90,98.82 205.20,94.00 C205.50,89.18 205.77,83.52 206.10,80.40 C206.43,77.28 206.78,73.60 207.20,75.30 C207.62,77.00 208.22,86.48 208.60,90.60 C208.98,94.72 209.03,95.30 209.50,100.00 C209.97,104.70 210.80,112.30 211.40,118.80 C212.00,125.30 212.50,137.42 213.10,139.00 C213.70,140.58 214.28,131.87 215.00,128.30 C215.72,124.73 216.60,119.58 217.40,117.60 C218.20,115.62 219.13,117.78 219.80,116.40 C220.47,115.02 221.02,111.68 221.40,109.30 C221.78,106.92 221.82,105.50 222.10,102.10 C222.38,98.70 222.65,91.72 223.10,88.90 C223.55,86.08 224.23,85.77 224.80,85.20 C225.37,84.63 225.93,86.87 226.50,85.50 C227.07,84.13 227.75,79.97 228.20,77.00 C228.65,74.03 228.85,69.67 229.20,67.70 C229.55,65.73 229.95,65.03 230.30,65.20 C230.65,65.37 230.92,67.07 231.30,68.70 C231.68,70.33 232.15,71.78 232.60,75.00 C233.05,78.22 233.48,82.17 234.00,88.00 C234.52,93.83 235.12,103.33 235.70,110.00 C236.28,116.67 236.85,123.00 237.50,128.00 C238.15,133.00 238.97,135.45 239.60,140.00 C240.23,144.55 240.73,151.05 241.30,155.30 C241.87,159.55 242.28,162.67 243.00,165.50 C243.72,168.33 244.60,170.60 245.60,172.30 C246.60,174.00 247.73,174.78 249.00,175.70 C250.27,176.62 251.53,177.28 253.20,177.80 C254.87,178.32 257.25,178.43 259.00,178.80 C260.75,179.17 262.92,179.80 263.70,180.00" fill="none" stroke="#ec4a28" stroke-width="1.2" stroke-linejoin="round"/>
<path d="M270.80,161.20 C271.32,159.93 273.13,158.55 273.90,153.60 C274.67,148.65 274.88,132.10 275.40,131.50 C275.92,130.90 276.40,146.32 277.00,150.00 C277.60,153.68 278.40,153.27 279.00,153.60 C279.60,153.93 279.35,153.28 280.60,152.00 C281.85,150.72 285.12,149.72 286.50,145.90 C287.88,142.08 288.07,134.28 288.90,129.10 C289.73,123.92 290.72,115.07 291.50,114.80 C292.28,114.53 293.10,125.63 293.60,127.50 C294.10,129.37 293.77,122.25 294.50,126.00 C295.23,129.75 297.05,143.50 298.00,150.00 C298.95,156.50 299.47,161.22 300.20,165.00 C300.93,168.78 301.67,170.87 302.40,172.70 C303.13,174.53 300.33,175.45 304.60,176.00 C308.87,176.55 324.10,176.00 328.00,176.00" fill="none" stroke="#ec4a28" stroke-width="1.2" stroke-linejoin="round"/>
<path d="M24.80,204.10 C25.33,204.05 27.18,204.37 28.00,203.80 C28.82,203.23 29.13,201.72 29.70,200.70 C30.27,199.68 30.83,197.55 31.40,197.70 C31.97,197.85 32.53,200.75 33.10,201.60 C33.67,202.45 34.10,202.72 34.80,202.80 C35.50,202.88 36.45,202.45 37.30,202.10 C38.15,201.75 39.18,201.13 39.90,200.70 C40.62,200.27 41.03,199.50 41.60,199.50 C42.17,199.50 42.73,200.78 43.30,200.70 C43.87,200.62 44.43,199.70 45.00,199.00 C45.57,198.30 46.13,196.50 46.70,196.50 C47.27,196.50 47.83,198.87 48.40,199.00 C48.97,199.13 49.40,197.87 50.10,197.30 C50.80,196.73 51.90,196.10 52.60,195.60 C53.30,195.10 53.73,193.87 54.30,194.30 C54.87,194.73 55.43,196.98 56.00,198.20 C56.57,199.42 56.98,200.92 57.70,201.60 C58.42,202.28 59.23,202.33 60.30,202.30 C61.37,202.27 63.08,201.93 64.10,201.40 C65.12,200.87 65.68,200.00 66.40,199.10 C67.12,198.20 67.82,196.82 68.40,196.00 C68.98,195.18 69.33,194.15 69.90,194.20 C70.47,194.25 71.23,195.87 71.80,196.30 C72.37,196.73 72.67,197.15 73.30,196.80 C73.93,196.45 74.83,194.28 75.60,194.20 C76.37,194.12 77.13,196.05 77.90,196.30 C78.67,196.55 79.57,195.92 80.20,195.70 C80.83,195.48 81.18,194.90 81.70,195.00 C82.22,195.10 82.53,195.92 83.30,196.30 C84.07,196.68 85.42,197.35 86.30,197.30 C87.18,197.25 87.90,196.72 88.60,196.00 C89.30,195.28 89.93,194.53 90.50,193.00 C91.07,191.47 91.42,188.90 92.00,186.80 C92.58,184.70 93.42,180.90 94.00,180.40 C94.58,179.90 94.90,183.10 95.50,183.80 C96.10,184.50 96.83,184.47 97.60,184.60 C98.37,184.73 99.12,184.23 100.10,184.60 C101.08,184.97 102.37,186.63 103.50,186.80 C104.63,186.97 105.77,185.88 106.90,185.60 C108.03,185.32 109.17,185.62 110.30,185.10 C111.43,184.58 112.57,183.63 113.70,182.50 C114.83,181.37 115.97,178.58 117.10,178.30 C118.23,178.02 119.37,179.95 120.50,180.80 C121.63,181.65 123.15,182.72 123.90,183.40 C124.65,184.08 124.25,185.37 125.00,184.90 C125.75,184.43 127.27,181.73 128.40,180.60 C129.53,179.47 130.80,177.95 131.80,178.10 C132.80,178.25 133.55,180.23 134.40,181.50 C135.25,182.77 135.92,184.72 136.90,185.70 C137.88,186.68 139.17,186.97 140.30,187.40 C141.43,187.83 142.57,187.95 143.70,188.30 C144.83,188.65 145.97,189.22 147.10,189.50 C148.23,189.78 149.65,190.20 150.50,190.00 C151.35,189.80 151.63,189.58 152.20,188.30 C152.77,187.02 153.38,183.92 153.90,182.30 C154.42,180.68 154.78,178.32 155.30,178.60 C155.82,178.88 156.10,182.25 157.00,184.00 C157.90,185.75 159.80,188.85 160.70,189.10 C161.60,189.35 161.72,187.42 162.40,185.50 C163.08,183.58 164.02,180.30 164.80,177.60 C165.58,174.90 166.32,169.70 167.10,169.30 C167.88,168.90 168.70,173.22 169.50,175.20 C170.30,177.18 171.18,179.80 171.90,181.20 C172.62,182.60 173.08,185.18 173.80,183.60 C174.52,182.02 175.40,175.47 176.20,171.70 C177.00,167.93 177.88,163.78 178.60,161.00 C179.32,158.22 179.83,155.25 180.50,155.00 C181.17,154.75 181.88,157.92 182.60,159.50 C183.32,161.08 184.15,164.38 184.80,164.50 C185.45,164.62 185.83,159.37 186.50,160.20 C187.17,161.03 187.87,166.87 188.80,169.50 C189.73,172.13 190.95,175.58 192.10,176.00 C193.25,176.42 194.72,173.50 195.70,172.00 C196.68,170.50 197.20,169.00 198.00,167.00 C198.80,165.00 199.63,162.70 200.50,160.00 C201.37,157.30 202.42,153.18 203.20,150.80 C203.98,148.42 204.53,147.13 205.20,145.70 C205.87,144.27 206.52,141.68 207.20,142.20 C207.88,142.72 208.62,146.00 209.30,148.80 C209.98,151.60 210.55,156.12 211.30,159.00 C212.05,161.88 212.95,165.25 213.80,166.10 C214.65,166.95 215.45,165.97 216.40,164.10 C217.35,162.23 218.47,158.47 219.50,154.90 C220.53,151.33 221.75,145.58 222.60,142.70 C223.45,139.82 223.98,138.85 224.60,137.60 C225.22,136.35 225.60,135.27 226.30,135.20 C227.00,135.13 227.93,136.23 228.80,137.20 C229.67,138.17 230.83,139.87 231.50,141.00 C232.17,142.13 232.15,142.47 232.80,144.00 C233.45,145.53 234.55,147.18 235.40,150.20 C236.25,153.22 237.05,158.13 237.90,162.10 C238.75,166.07 239.65,170.32 240.50,174.00 C241.35,177.68 242.30,181.53 243.00,184.20 C243.70,186.87 244.00,187.87 244.70,190.00 C245.40,192.13 246.28,195.43 247.20,197.00 C248.12,198.57 249.02,199.08 250.20,199.40 C251.38,199.72 252.93,199.10 254.30,198.90 C255.67,198.70 257.20,198.20 258.40,198.20 C259.60,198.20 260.45,198.37 261.50,198.90 C262.55,199.43 264.17,200.98 264.70,201.40" fill="none" stroke="#4f30a0" stroke-width="1.2" stroke-linejoin="round"/>
<path d="M270.10,194.10 C270.43,192.90 271.25,189.80 272.10,186.90 C272.95,184.00 274.35,178.47 275.20,176.70 C276.05,174.93 276.52,176.80 277.20,176.30 C277.88,175.80 278.45,174.82 279.30,173.70 C280.15,172.58 281.28,171.82 282.30,169.60 C283.32,167.38 284.38,163.12 285.40,160.40 C286.42,157.68 287.38,155.27 288.40,153.30 C289.42,151.33 290.63,148.95 291.50,148.60 C292.37,148.25 292.75,148.90 293.60,151.20 C294.45,153.50 295.75,159.10 296.60,162.40 C297.45,165.70 297.95,168.02 298.70,171.00 C299.45,173.98 300.43,177.35 301.10,180.30 C301.77,183.25 302.18,186.87 302.70,188.70 C303.22,190.53 303.43,190.78 304.20,191.30 C304.97,191.82 306.28,191.33 307.30,191.80 C308.32,192.27 309.42,193.08 310.30,194.10 C311.18,195.12 311.83,196.62 312.60,197.90 C313.37,199.18 314.13,200.95 314.90,201.80 C315.67,202.65 315.03,202.75 317.20,203.00 C319.37,203.25 326.12,203.25 327.90,203.30" fill="none" stroke="#4f30a0" stroke-width="1.2" stroke-linejoin="round"/>
<path d="M24.80,237.10 C25.17,237.18 26.20,237.68 27.00,237.60 C27.80,237.52 28.75,236.70 29.60,236.60 C30.45,236.50 31.27,236.93 32.10,237.00 C32.93,237.07 33.67,236.95 34.60,237.00 C35.53,237.05 36.87,237.52 37.70,237.30 C38.53,237.08 38.85,236.55 39.60,235.70 C40.35,234.85 41.47,232.30 42.20,232.20 C42.93,232.10 43.38,234.62 44.00,235.10 C44.62,235.58 45.37,235.42 45.90,235.10 C46.43,234.78 46.78,233.32 47.20,233.20 C47.62,233.08 47.98,234.18 48.40,234.40 C48.82,234.62 49.17,235.12 49.70,234.50 C50.23,233.88 50.88,231.57 51.60,230.70 C52.32,229.83 53.27,228.78 54.00,229.30 C54.73,229.82 55.35,232.18 56.00,233.80 C56.65,235.42 57.17,237.95 57.90,239.00 C58.63,240.05 59.45,239.88 60.40,240.10 C61.35,240.32 62.75,240.50 63.60,240.30 C64.45,240.10 64.88,240.18 65.50,238.90 C66.12,237.62 66.63,234.32 67.30,232.60 C67.97,230.88 68.80,228.53 69.50,228.60 C70.20,228.67 70.87,231.83 71.50,233.00 C72.13,234.17 72.48,234.97 73.30,235.60 C74.12,236.23 75.53,236.60 76.40,236.80 C77.27,237.00 77.63,237.13 78.50,236.80 C79.37,236.47 80.60,234.83 81.60,234.80 C82.60,234.77 83.32,236.02 84.50,236.60 C85.68,237.18 87.73,238.40 88.70,238.30 C89.67,238.20 89.83,237.05 90.30,236.00 C90.77,234.95 91.05,233.42 91.50,232.00 C91.95,230.58 92.50,228.77 93.00,227.50 C93.50,226.23 93.90,224.32 94.50,224.40 C95.10,224.48 95.98,227.47 96.60,228.00 C97.22,228.53 97.65,228.00 98.20,227.60 C98.75,227.20 99.30,225.57 99.90,225.60 C100.50,225.63 101.05,227.10 101.80,227.80 C102.55,228.50 103.40,229.55 104.40,229.80 C105.40,230.05 106.53,229.58 107.80,229.30 C109.07,229.02 110.87,228.78 112.00,228.10 C113.13,227.42 113.60,226.33 114.60,225.20 C115.60,224.07 117.02,221.53 118.00,221.30 C118.98,221.07 119.57,222.95 120.50,223.80 C121.43,224.65 122.60,226.40 123.60,226.40 C124.60,226.40 125.60,224.65 126.50,223.80 C127.40,222.95 128.15,221.87 129.00,221.30 C129.85,220.73 130.88,220.68 131.60,220.40 C132.32,220.12 132.72,219.25 133.30,219.60 C133.88,219.95 134.28,221.33 135.10,222.50 C135.92,223.67 136.97,225.55 138.20,226.60 C139.43,227.65 141.12,228.07 142.50,228.80 C143.88,229.53 145.15,230.63 146.50,231.00 C147.85,231.37 149.58,231.58 150.60,231.00 C151.62,230.42 152.02,229.05 152.60,227.50 C153.18,225.95 153.70,223.47 154.10,221.70 C154.50,219.93 154.62,216.43 155.00,216.90 C155.38,217.37 155.80,222.72 156.40,224.50 C157.00,226.28 157.72,226.85 158.60,227.60 C159.48,228.35 160.75,229.22 161.70,229.00 C162.65,228.78 163.63,227.52 164.30,226.30 C164.97,225.08 165.25,224.25 165.70,221.70 C166.15,219.15 166.65,213.33 167.00,211.00 C167.35,208.67 167.45,207.40 167.80,207.70 C168.15,208.00 168.55,210.93 169.10,212.80 C169.65,214.67 170.37,216.98 171.10,218.90 C171.83,220.82 172.75,224.82 173.50,224.30 C174.25,223.78 174.90,219.60 175.60,215.80 C176.30,212.00 177.08,205.58 177.70,201.50 C178.32,197.42 178.87,193.68 179.30,191.30 C179.73,188.92 179.90,186.68 180.30,187.20 C180.70,187.72 181.18,191.33 181.70,194.40 C182.22,197.47 182.95,203.47 183.40,205.60 C183.85,207.73 184.07,208.22 184.40,207.20 C184.73,206.18 185.00,202.22 185.40,199.50 C185.80,196.78 186.38,191.42 186.80,190.90 C187.22,190.38 187.45,193.60 187.90,196.40 C188.35,199.20 188.90,203.95 189.50,207.70 C190.10,211.45 190.87,216.27 191.50,218.90 C192.13,221.53 192.62,223.17 193.30,223.50 C193.98,223.83 194.87,222.52 195.60,220.90 C196.33,219.28 197.02,216.68 197.70,213.80 C198.38,210.92 199.03,206.83 199.70,203.60 C200.37,200.37 201.02,197.63 201.70,194.40 C202.38,191.17 203.12,189.93 203.80,184.20 C204.48,178.47 205.18,166.07 205.80,160.00 C206.42,153.93 206.93,147.80 207.50,147.80 C208.07,147.80 208.67,155.10 209.20,160.00 C209.73,164.90 210.18,171.60 210.70,177.20 C211.22,182.80 211.67,189.72 212.30,193.60 C212.93,197.48 213.68,199.65 214.50,200.50 C215.32,201.35 216.37,200.17 217.20,198.70 C218.03,197.23 218.78,195.28 219.50,191.70 C220.22,188.12 220.83,182.48 221.50,177.20 C222.17,171.92 222.92,164.37 223.50,160.00 C224.08,155.63 224.43,153.08 225.00,151.00 C225.57,148.92 226.17,147.95 226.90,147.50 C227.63,147.05 228.55,147.57 229.40,148.30 C230.25,149.03 231.28,150.17 232.00,151.90 C232.72,153.63 233.13,156.15 233.70,158.70 C234.27,161.25 234.83,164.37 235.40,167.20 C235.97,170.03 236.53,172.87 237.10,175.70 C237.67,178.53 238.20,181.07 238.80,184.20 C239.40,187.33 239.98,190.40 240.70,194.50 C241.42,198.60 242.30,204.43 243.10,208.80 C243.90,213.17 244.70,217.92 245.50,220.70 C246.30,223.48 246.92,224.30 247.90,225.50 C248.88,226.70 250.22,227.58 251.40,227.90 C252.58,228.22 253.80,227.33 255.00,227.40 C256.20,227.47 257.22,227.90 258.60,228.30 C259.98,228.70 262.52,229.55 263.30,229.80" fill="none" stroke="#36a036" stroke-width="1.35" stroke-linejoin="round"/>
<path d="M270.10,228.50 C270.55,227.13 271.90,223.25 272.80,220.30 C273.70,217.35 274.60,212.15 275.50,210.80 C276.40,209.45 277.28,212.65 278.20,212.20 C279.12,211.75 280.08,209.47 281.00,208.10 C281.92,206.73 282.80,206.27 283.70,204.00 C284.60,201.73 285.50,197.45 286.40,194.50 C287.30,191.55 288.18,188.80 289.10,186.30 C290.02,183.80 290.98,179.72 291.90,179.50 C292.82,179.28 293.70,182.05 294.60,185.00 C295.50,187.95 296.40,192.45 297.30,197.20 C298.20,201.95 299.17,208.87 300.00,213.50 C300.83,218.13 301.50,222.53 302.30,225.00 C303.10,227.47 303.73,227.70 304.80,228.30 C305.87,228.90 307.42,228.28 308.70,228.60 C309.98,228.92 311.38,229.22 312.50,230.20 C313.62,231.18 313.93,233.70 315.40,234.50 C316.87,235.30 319.20,234.82 321.30,235.00 C323.40,235.18 326.88,235.50 328.00,235.60" fill="none" stroke="#36a036" stroke-width="1.35" stroke-linejoin="round"/>
<path d="M24.80,258.00 C25.17,258.07 26.32,258.40 27.00,258.40 C27.68,258.40 28.30,258.63 28.90,258.00 C29.50,257.37 30.18,255.65 30.60,254.60 C31.02,253.55 31.12,251.60 31.40,251.70 C31.68,251.80 31.98,254.40 32.30,255.20 C32.62,256.00 32.82,256.50 33.30,256.50 C33.78,256.50 34.67,255.58 35.20,255.20 C35.73,254.82 35.97,254.20 36.50,254.20 C37.03,254.20 37.77,255.35 38.40,255.20 C39.03,255.05 39.67,254.03 40.30,253.30 C40.93,252.57 41.68,250.80 42.20,250.80 C42.72,250.80 42.98,252.45 43.40,253.30 C43.82,254.15 44.17,255.90 44.70,255.90 C45.23,255.90 46.02,254.47 46.60,253.30 C47.18,252.13 47.72,249.22 48.20,248.90 C48.68,248.58 49.08,250.55 49.50,251.40 C49.92,252.25 50.13,254.30 50.70,254.00 C51.27,253.70 52.27,250.03 52.90,249.60 C53.53,249.17 53.98,250.57 54.50,251.40 C55.02,252.23 55.43,253.75 56.00,254.60 C56.57,255.45 57.17,256.15 57.90,256.50 C58.63,256.85 59.67,256.50 60.40,256.70 C61.13,256.90 61.77,257.42 62.30,257.70 C62.83,257.98 63.18,258.60 63.60,258.40 C64.02,258.20 64.28,257.55 64.80,256.50 C65.32,255.45 66.07,253.37 66.70,252.10 C67.33,250.83 67.88,249.73 68.60,248.90 C69.32,248.07 70.08,247.53 71.00,247.10 C71.92,246.67 73.02,246.18 74.10,246.30 C75.18,246.42 76.43,247.13 77.50,247.80 C78.57,248.47 79.58,250.10 80.50,250.30 C81.42,250.50 82.13,249.63 83.00,249.00 C83.87,248.37 84.77,246.95 85.70,246.50 C86.63,246.05 87.75,246.35 88.60,246.30 C89.45,246.25 90.10,246.93 90.80,246.20 C91.50,245.47 92.22,243.55 92.80,241.90 C93.38,240.25 93.70,236.25 94.30,236.30 C94.90,236.35 95.72,241.27 96.40,242.20 C97.08,243.13 97.63,241.88 98.40,241.90 C99.17,241.92 100.15,241.97 101.00,242.30 C101.85,242.63 102.37,243.80 103.50,243.90 C104.63,244.00 106.38,243.27 107.80,242.90 C109.22,242.53 110.73,242.47 112.00,241.70 C113.27,240.93 114.40,239.15 115.40,238.30 C116.40,237.45 117.15,236.60 118.00,236.60 C118.85,236.60 119.72,237.65 120.50,238.30 C121.28,238.95 121.85,240.58 122.70,240.50 C123.55,240.42 124.68,238.88 125.60,237.80 C126.52,236.72 127.35,234.77 128.20,234.00 C129.05,233.23 129.85,233.45 130.70,233.20 C131.55,232.95 132.58,232.47 133.30,232.50 C134.02,232.53 134.33,232.75 135.00,233.40 C135.67,234.05 136.53,235.58 137.30,236.40 C138.07,237.22 138.70,237.78 139.60,238.30 C140.50,238.82 141.68,238.78 142.70,239.50 C143.72,240.22 144.68,241.45 145.70,242.60 C146.72,243.75 147.72,245.33 148.80,246.40 C149.88,247.47 151.32,249.00 152.20,249.00 C153.08,249.00 153.40,247.47 154.10,246.40 C154.80,245.33 155.63,243.18 156.40,242.60 C157.17,242.02 157.80,243.03 158.70,242.90 C159.60,242.77 160.77,242.62 161.80,241.80 C162.83,240.98 164.13,239.67 164.90,238.00 C165.67,236.33 165.90,233.38 166.40,231.80 C166.90,230.22 167.32,228.23 167.90,228.50 C168.48,228.77 169.32,232.07 169.90,233.40 C170.48,234.73 170.87,235.33 171.40,236.50 C171.93,237.67 172.48,240.68 173.10,240.40 C173.72,240.12 174.33,237.87 175.10,234.80 C175.87,231.73 176.90,225.32 177.70,222.00 C178.50,218.68 179.20,215.18 179.90,214.90 C180.60,214.62 181.28,218.55 181.90,220.30 C182.52,222.05 182.88,224.27 183.60,225.40 C184.32,226.53 185.48,225.82 186.20,227.10 C186.92,228.38 187.25,230.83 187.90,233.10 C188.55,235.37 189.40,238.92 190.10,240.70 C190.80,242.48 191.33,243.93 192.10,243.80 C192.87,243.67 193.85,241.83 194.70,239.90 C195.55,237.97 196.35,235.18 197.20,232.20 C198.05,229.22 199.05,224.75 199.80,222.00 C200.55,219.25 200.95,218.17 201.70,215.70 C202.45,213.23 203.40,209.47 204.30,207.20 C205.20,204.93 206.25,202.38 207.10,202.10 C207.95,201.82 208.73,203.65 209.40,205.50 C210.07,207.35 210.40,210.22 211.10,213.20 C211.80,216.18 212.75,220.93 213.60,223.40 C214.45,225.87 215.35,227.72 216.20,228.00 C217.05,228.28 217.85,227.28 218.70,225.10 C219.55,222.92 220.45,218.17 221.30,214.90 C222.15,211.63 222.82,208.05 223.80,205.50 C224.78,202.95 226.07,201.30 227.20,199.60 C228.33,197.90 229.47,196.72 230.60,195.30 C231.73,193.88 233.08,192.05 234.00,191.10 C234.92,190.15 235.38,189.37 236.10,189.60 C236.82,189.83 237.53,190.10 238.30,192.50 C239.07,194.90 239.90,199.70 240.70,204.00 C241.50,208.30 242.30,213.73 243.10,218.30 C243.90,222.87 244.70,228.02 245.50,231.40 C246.30,234.78 246.92,236.82 247.90,238.60 C248.88,240.38 250.22,241.43 251.40,242.10 C252.58,242.77 253.80,242.67 255.00,242.60 C256.20,242.53 257.42,241.58 258.60,241.70 C259.78,241.82 261.12,242.63 262.10,243.30 C263.08,243.97 264.10,245.30 264.50,245.70" fill="none" stroke="#982aa0" stroke-width="1.35" stroke-linejoin="round"/>
<path d="M270.10,248.90 C270.55,247.77 271.90,244.37 272.80,242.10 C273.70,239.83 274.37,237.12 275.50,235.30 C276.63,233.48 278.23,232.78 279.60,231.20 C280.97,229.62 282.33,228.75 283.70,225.80 C285.07,222.85 286.67,216.90 287.80,213.50 C288.93,210.10 289.60,207.30 290.50,205.40 C291.40,203.50 292.30,201.88 293.20,202.10 C294.10,202.32 294.98,203.88 295.90,206.70 C296.82,209.52 297.93,215.45 298.70,219.00 C299.47,222.55 299.87,225.50 300.50,228.00 C301.13,230.50 301.75,232.53 302.50,234.00 C303.25,235.47 304.12,236.17 305.00,236.80 C305.88,237.43 307.03,237.18 307.80,237.80 C308.57,238.42 309.00,239.28 309.60,240.50 C310.20,241.72 310.78,243.42 311.40,245.10 C312.02,246.78 312.68,248.92 313.30,250.60 C313.92,252.28 314.50,254.13 315.10,255.20 C315.70,256.27 314.77,256.67 316.90,257.00 C319.03,257.33 326.07,257.17 327.90,257.20" fill="none" stroke="#982aa0" stroke-width="1.35" stroke-linejoin="round"/>
</svg></body></html>
